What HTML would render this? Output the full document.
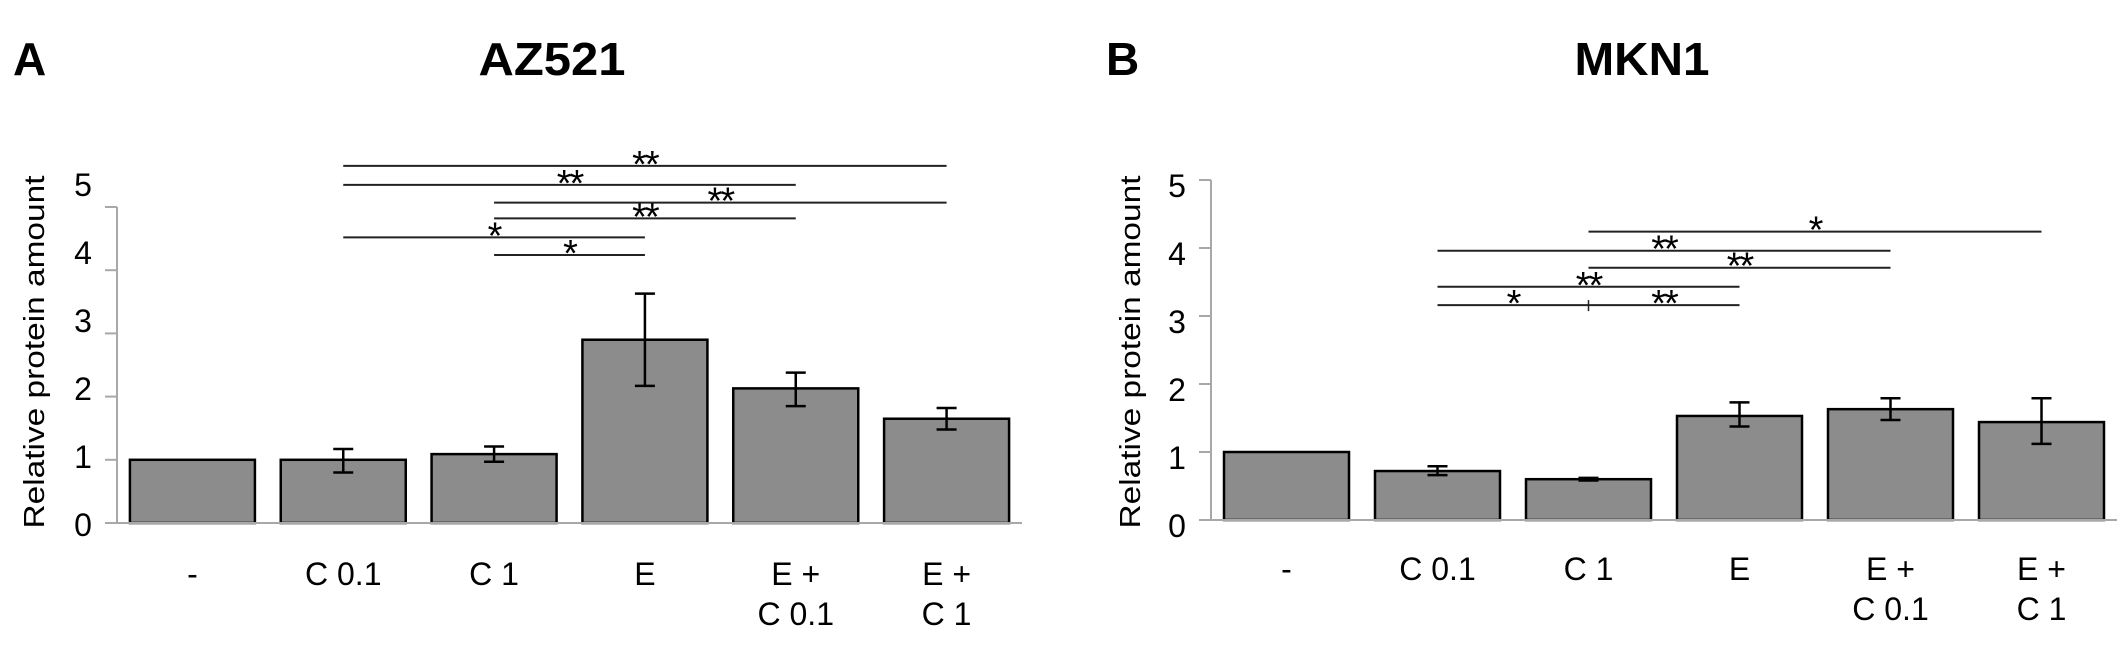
<!DOCTYPE html>
<html><head><meta charset="utf-8">
<style>
html,body{margin:0;padding:0;background:#fff;}
svg{display:block;font-family:"Liberation Sans",Arial,sans-serif;}
</style></head>
<body>
<svg id="fig" width="2127" height="657" viewBox="0 0 2127 657">
<text x="13" y="75" font-size="46" font-weight="bold">A</text>
<text x="552" y="75" font-size="46" font-weight="bold" text-anchor="middle" textLength="147" lengthAdjust="spacingAndGlyphs">AZ521</text>
<text x="1106" y="75" font-size="46" font-weight="bold">B</text>
<text x="1642" y="75" font-size="46" font-weight="bold" text-anchor="middle" textLength="135" lengthAdjust="spacingAndGlyphs">MKN1</text>
</svg>
<script>
const categories = ["-", "C 0.1", "C 1", "E", "E +|C 0.1", "E +|C 1"];
const yTicks = [0, 1, 2, 3, 4, 5];
const aValues = [1.0, 1.0, 1.09, 2.9, 2.13, 1.65];
const aErrHigh = [null, 1.17, 1.21, 3.63, 2.38, 1.82];
const aErrLow = [null, 0.8, 0.97, 2.17, 1.85, 1.48];
const aSigFrom = [1, 1, 2, 2, 1, 2];
const aSigTo = [5, 4, 5, 4, 3, 3];
const aSigY = [5.65, 5.35, 5.07, 4.82, 4.52, 4.24];
const aSigLabel = ["**", "**", "**", "**", "*", "*"];
const bValues = [1.0, 0.72, 0.6, 1.53, 1.63, 1.44];
const bErrHigh = [null, 0.79, 0.62, 1.73, 1.79, 1.79];
const bErrLow = [null, 0.66, 0.58, 1.375, 1.47, 1.12];
const bSigFrom = [2, 1, 2, 1, 1, 2];
const bSigTo = [5, 4, 4, 3, 2, 3];
const bSigY = [4.24, 3.96, 3.71, 3.43, 3.16, 3.16];
const bSigLabel = ["*", "**", "**", "**", "*", "**"];

const NS = "http://www.w3.org/2000/svg";
const svg = document.getElementById('fig');
function mk(tag, attrs, parent) {
  const e = document.createElementNS(NS, tag);
  for (const k in attrs) e.setAttribute(k, attrs[k]);
  (parent || svg).appendChild(e);
  return e;
}

function panel(p) {
  const g = mk('g', {});
  
  
  const band = (p.x1 - p.x0) / categories.length;
  const xc = i => p.x0 + band * (i + 0.5);
  const y = v => p.y0 - v * p.unit;
  const ax = mk('line', {x1: p.x0, y1: y(0), x2: p.x0, y2: y(5), stroke: '#a8a8a8', 'stroke-width': 2}, g);
  
  
  yTicks.forEach(t => {
    const tk = mk('line', {x1: p.x0 - 12, y1: y(t), x2: p.x0, y2: y(t), stroke: '#a8a8a8', 'stroke-width': 2}, g);
    
    
    const lb = mk('text', {x: p.x0 - 34, y: p.labelY0 - t * 68 + 11, 'font-size': 32, 'text-anchor': 'middle'}, g);
    lb.textContent = t;
    
    
  });
  const tt = mk('text', {x: 0, y: 0, 'font-size': 29, 'text-anchor': 'middle', textLength: 353, lengthAdjust: 'spacingAndGlyphs',
    transform: `translate(${p.titleX},${p.titleY}) rotate(-90)`}, g);
  tt.textContent = 'Relative protein amount';
  
  
  const bw = 125;
  p.values.forEach((v, i) => {
    const r = mk('rect', {x: xc(i) - bw / 2, y: y(v), width: bw, height: y(0) - y(v), fill: '#8c8c8c', stroke: '#000', 'stroke-width': 2.5}, g);
    
    
    if (p.hi[i] != null) {
      const eg = mk('g', {stroke: '#000', 'stroke-width': 2.5}, g);
      
      
      mk('line', {x1: xc(i), y1: y(p.hi[i]), x2: xc(i), y2: y(p.lo[i])}, eg);
      mk('line', {x1: xc(i) - 10, y1: y(p.hi[i]), x2: xc(i) + 10, y2: y(p.hi[i])}, eg);
      mk('line', {x1: xc(i) - 10, y1: y(p.lo[i]), x2: xc(i) + 10, y2: y(p.lo[i])}, eg);
    }
  });
  const xa = mk('line', {x1: p.x0 - 12, y1: y(0), x2: p.x1, y2: y(0), stroke: '#a8a8a8', 'stroke-width': 2}, g);
  
  
  categories.forEach((c, i) => {
    const parts = c.split('|');
    parts.forEach((s, j) => {
      const t = mk('text', {x: xc(i), y: p.row1 + j * 40, 'font-size': 32, 'text-anchor': 'middle'}, g);
      t.textContent = s;
      
      
    });
  });
  p.sf.forEach((f, k) => {
    const sy = y(p.sy[k]);
    const sg = mk('g', {}, g);
    
    
    mk('line', {x1: xc(f), y1: sy, x2: xc(p.st[k]), y2: sy, stroke: '#222', 'stroke-width': 2}, sg);
    const st = mk('text', {x: (xc(f) + xc(p.st[k])) / 2, y: sy + 11, 'font-size': 38, 'letter-spacing': -2, 'text-anchor': 'middle'}, sg);
    st.textContent = p.sl[k];
  });
  if (p.tick) {
    const tk = mk('line', {x1: xc(2), y1: y(3.16) - 5, x2: xc(2), y2: y(3.16) + 6, stroke: '#222', 'stroke-width': 1.5}, g);
    
    
  }
}

panel({name: 'panel-a-chart', x0: 117, x1: 1022, y0: 523, unit: 63.2, labelY0: 525, titleX: 44, titleY: 352, row1: 585,
  values: aValues, hi: aErrHigh, lo: aErrLow, sf: aSigFrom, st: aSigTo, sy: aSigY, sl: aSigLabel});
panel({name: 'panel-b-chart', x0: 1211, x1: 2117, y0: 520, unit: 68, labelY0: 526, titleX: 1140, titleY: 352, row1: 580,
  values: bValues, hi: bErrHigh, lo: bErrLow, sf: bSigFrom, st: bSigTo, sy: bSigY, sl: bSigLabel, tick: true});
</script>
</body></html>
